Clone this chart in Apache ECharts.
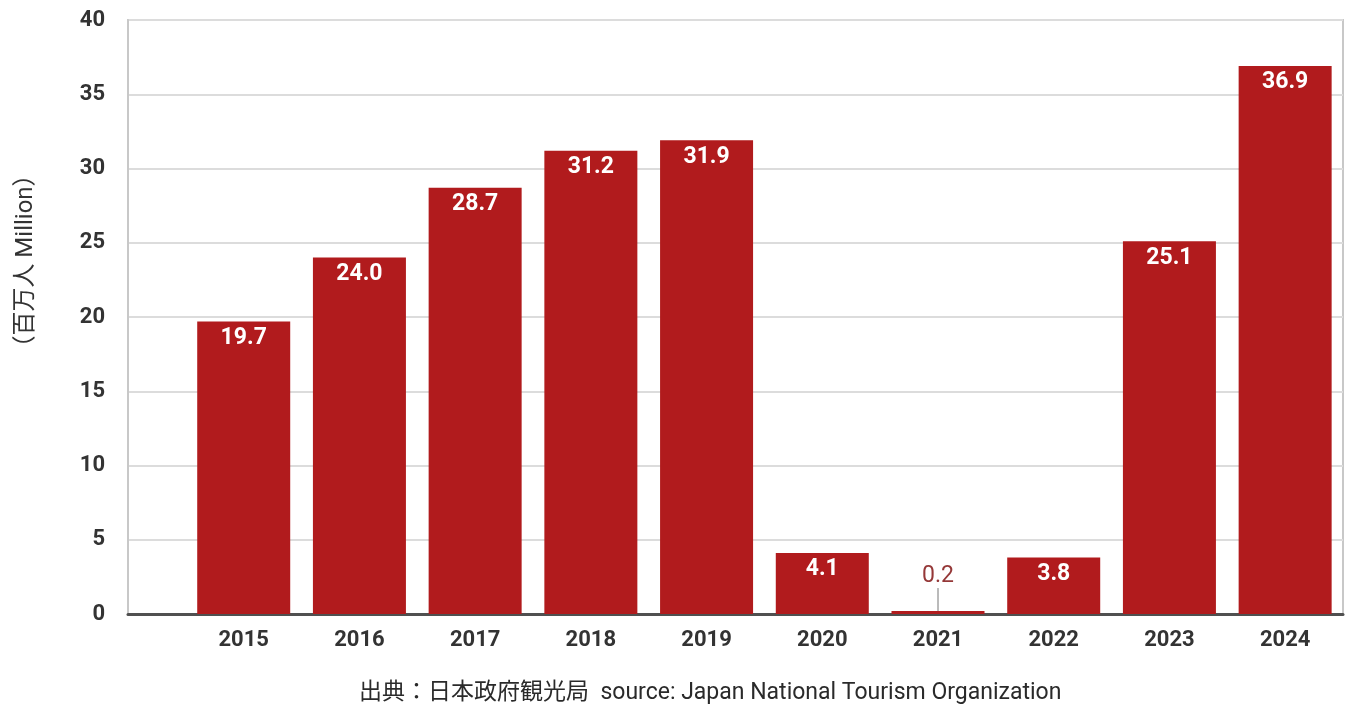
<!DOCTYPE html>
<html>
<head>
<meta charset="utf-8">
<script src="https://cdn.jsdelivr.net/npm/echarts@6/dist/echarts.min.js"></script>
<style>
  html, body { margin: 0; padding: 0; background: #fff; }
  #chart { width: 1349px; height: 704px; }
</style>
</head>
<body>
<div id="chart"></div>
<script>
// Visitors to Japan per year (millions)
const years = [2015, 2016, 2017, 2018, 2019, 2020, 2021, 2022, 2023, 2024];
const visitors = [19.7, 24.0, 28.7, 31.2, 31.9, 4.1, 0.2, 3.8, 25.1, 36.9];
const yTicks = [0, 5, 10, 15, 20, 25, 30, 35, 40];
const yAxisTitle = '（百万人 Million）';
const sourceNote = '出典：日本政府観光局  source: Japan National Tourism Organization';

const barColor = '#b11b1d';
const font = 'Roboto, "Noto Sans CJK JP", sans-serif';
const smallLimit = 2; // bars shorter than this carry their label above

const chart = echarts.init(document.getElementById('chart'));

const data = years.map((y, i) => {
  const v = visitors[i];
  const item = { value: [y, v] };
  if (v < smallLimit) {
    item.label = {
      position: 'top',
      distance: 4,
      color: '#953838',
      fontWeight: 'normal'
    };
  }
  return item;
});

chart.setOption({
  animation: false,
  grid: {
    left: 128, right: 6, top: 20, bottom: 90,
    show: true, borderColor: '#c8c8c8', borderWidth: 2
  },
  title: {
    text: sourceNote,
    left: 354, top: 677,
    textStyle: { fontFamily: font, fontSize: 23, fontWeight: 'normal', color: '#2a2a2a' }
  },
  xAxis: {
    type: 'value',
    min: 2014, max: 2024.5, interval: 1,
    splitLine: { show: false },
    axisTick: { show: false },
    axisLine: { show: true, onZero: false, lineStyle: { color: '#505050', width: 3 } },
    axisLabel: {
      margin: 15,
      fontFamily: font, fontSize: 22, fontWeight: 'bold', color: '#333',
      showMaxLabel: false,
      formatter: v => (years.indexOf(v) >= 0 ? String(v) : '')
    }
  },
  yAxis: {
    type: 'value',
    min: yTicks[0], max: yTicks[yTicks.length - 1], interval: 5,
    name: yAxisTitle,
    nameLocation: 'middle',
    nameGap: 90,
    nameTextStyle: { fontFamily: font, fontSize: 24, color: '#333', padding: [0, 0, 0, 112] },
    axisLine: { show: true, lineStyle: { color: '#c8c8c8', width: 2 } },
    axisTick: { show: false },
    splitLine: { lineStyle: { color: '#dcdcdc', width: 2 } },
    axisLabel: {
      margin: 23,
      fontFamily: font, fontSize: 22, fontWeight: 'bold', color: '#333'
    }
  },
  series: [{
    type: 'bar',
    barWidth: 93,
    data: data,
    itemStyle: { color: barColor },
    label: {
      show: true,
      position: 'insideTop',
      distance: 5,
      fontFamily: font, fontSize: 23, fontWeight: 'bold', color: '#fff',
      formatter: p => p.value[1].toFixed(1)
    },
    labelLayout: p => (visitors[p.dataIndex] < smallLimit ? { dy: -19 } : {}),
    labelLine: { show: true, length2: 0, lineStyle: { color: '#777', width: 1 } },
    z: 3
  }]
});
</script>
</body>
</html>
